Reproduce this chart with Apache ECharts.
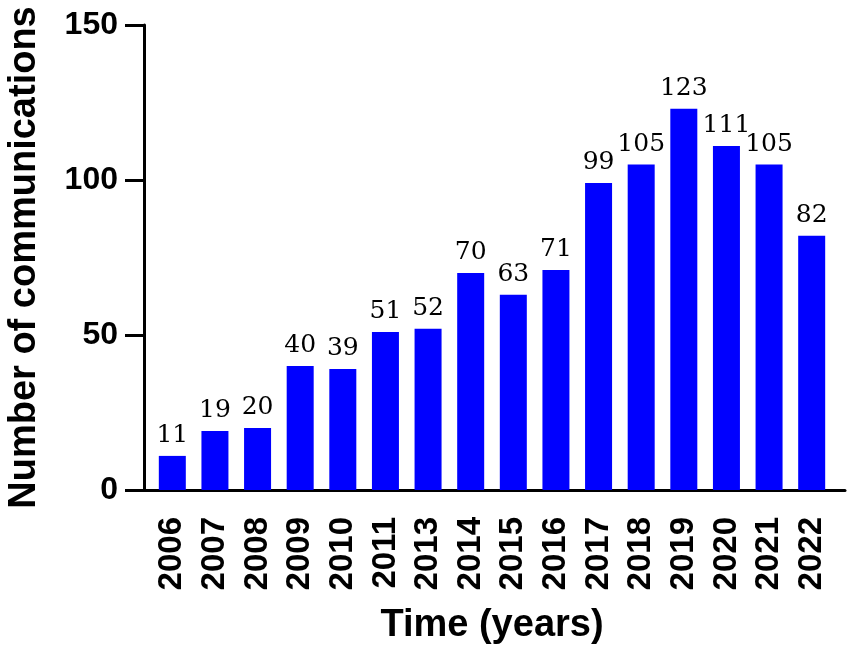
<!DOCTYPE html>
<html>
<head>
<meta charset="utf-8">
<script src="https://cdn.jsdelivr.net/npm/echarts@6/dist/echarts.min.js"></script>
<style>
  html, body { margin: 0; padding: 0; background: #fff; }
  #main { width: 851px; height: 659px; }
</style>
</head>
<body>
<div id="main"></div>
<script>
var years = ['2006', '2007', '2008', '2009', '2010', '2011', '2013', '2014',
    '2015', '2016', '2017', '2018', '2019', '2020', '2021', '2022'];
var counts = [11, 19, 20, 40, 39, 51, 52, 70, 63, 71, 99, 105, 123, 111, 105, 82];

var myChart = echarts.init(document.getElementById('main'));

var sans = 'Liberation Sans, Arial, sans-serif';

var option = {
    animation: false,
    grid: [
        { left: 151, right: 18, top: 25, bottom: 169, outerBoundsMode: 'none' },
        // only used to draw the longer baseline, Prism style
        { left: 144, right: 6, top: 25, bottom: 169, outerBoundsMode: 'none' }
    ],
    xAxis: [{
        type: 'category',
        gridIndex: 0,
        data: years,
        name: 'Time (years)',
        nameLocation: 'middle',
        nameGap: 117,
        nameTextStyle: { fontFamily: sans, fontWeight: 'bold', fontSize: 38, color: '#000' },
        axisLine: { lineStyle: { color: '#000', width: 3 } },
        axisTick: { alignWithLabel: true, interval: 0, length: 21, lineStyle: { width: 3, color: '#000' } },
        axisLabel: {
            interval: 0,
            rotate: 90,
            margin: 27,
            fontFamily: sans,
            fontWeight: 'bold',
            fontSize: 33,
            color: '#000'
        }
    }, {
        type: 'value',
        gridIndex: 1,
        min: 0,
        max: 1,
        axisLine: { show: true, lineStyle: { color: '#000', width: 3 } },
        axisTick: { show: false },
        axisLabel: { show: false },
        splitLine: { show: false }
    }],
    yAxis: [{
        type: 'value',
        gridIndex: 0,
        min: 0,
        max: 150,
        interval: 50,
        offset: 7,
        name: 'Number of communications',
        nameLocation: 'middle',
        nameGap: 100,
        nameTextStyle: { fontFamily: sans, fontWeight: 'bold', fontSize: 38, color: '#000' },
        axisLine: { show: true, lineStyle: { color: '#000', width: 3 } },
        axisTick: { show: true, length: 19, lineStyle: { width: 3, color: '#000' } },
        axisLabel: {
            margin: 26,
            fontFamily: sans,
            fontWeight: 'bold',
            fontSize: 32,
            color: '#000'
        },
        splitLine: { show: false }
    }, {
        type: 'value',
        gridIndex: 1,
        show: false,
        min: 0,
        max: 150
    }],
    series: [{
        type: 'bar',
        xAxisIndex: 0,
        yAxisIndex: 0,
        data: counts,
        barWidth: 27,
        itemStyle: { color: '#0000ff' },
        label: {
            show: true,
            position: 'top',
            distance: 8,
            fontFamily: 'DejaVu Serif, serif',
            fontSize: 25,
            color: '#000'
        }
    }]
};

myChart.setOption(option);
window.onresize = function () {
    myChart.resize();
};
</script>
</body>
</html>
